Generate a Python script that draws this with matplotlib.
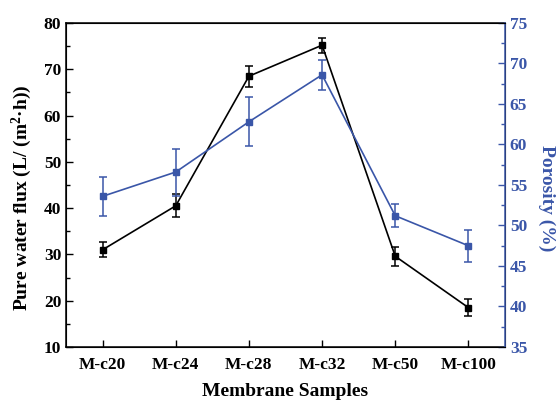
import matplotlib
matplotlib.use("Agg")
import matplotlib.pyplot as plt
from matplotlib.ticker import MultipleLocator

plt.rcParams['font.family'] = ['Liberation Serif', 'DejaVu Serif']
plt.rcParams['font.weight'] = 'bold'
plt.rcParams['mathtext.fontset'] = 'custom'
plt.rcParams['mathtext.rm'] = 'Liberation Serif:bold'
plt.rcParams['mathtext.bf'] = 'Liberation Serif:bold'
plt.rcParams['mathtext.it'] = 'Liberation Serif:bold'

samples = ["M-c20", "M-c24", "M-c28", "M-c32", "M-c50", "M-c100"]
flux = [31.0, 40.5, 68.5, 75.2, 29.6, 18.5]
flux_err = [1.6, 2.5, 2.3, 1.6, 2.0, 1.9]
porosity = [53.6, 56.6, 62.8, 68.6, 51.2, 47.5]
porosity_err = [2.4, 2.9, 3.0, 1.85, 1.4, 2.0]

blue = '#3A56A8'

fig = plt.figure(figsize=(5.58, 4.03), dpi=100)
ax = fig.add_axes([0.1183, 0.139, 0.7867, 0.804])
x = list(range(len(samples)))

ax.errorbar(x, flux, yerr=flux_err, color='black', marker='s', markersize=5,
            linewidth=1.2, capsize=3, elinewidth=1.1, capthick=1.1, zorder=3)
ax.set_xlim(-0.5, 5.5)
ax.set_ylim(10, 80)
ax.set_xticks(x)
ax.set_xticklabels(samples)
ax.yaxis.set_major_locator(MultipleLocator(10))
ax.yaxis.set_minor_locator(MultipleLocator(5))
ax.tick_params(axis='both', which='both', direction='in', labelsize=12.5)
ax.tick_params(axis='both', which='major', length=5, width=1)
ax.tick_params(axis='y', which='minor', length=3, width=1)
ax.tick_params(axis='x', which='major', pad=7)
ax.set_ylabel(r'Pure water flux (L/ (m$^{2}$·h))', fontsize=14, fontweight='bold')
ax.yaxis.set_label_coords(-0.073, 0.46)
ax.set_xlabel('Membrane Samples', fontsize=14, fontweight='bold')
ax.xaxis.set_label_coords(0.5, -0.112)
for s in ['left', 'bottom', 'top']:
    ax.spines[s].set_linewidth(1.1)

ax2 = ax.twinx()
ax2.errorbar(x, porosity, yerr=porosity_err, color=blue, marker='s', markersize=5,
             linewidth=1.2, capsize=3, elinewidth=1.1, capthick=1.1, zorder=3)
ax2.set_ylim(35, 75)
ax2.yaxis.set_major_locator(MultipleLocator(5))
ax2.yaxis.set_minor_locator(MultipleLocator(2.5))
ax2.tick_params(axis='y', which='both', direction='in', colors=blue, labelsize=12.5)
ax2.tick_params(axis='y', which='major', length=5, width=1)
ax2.tick_params(axis='y', which='minor', length=3, width=1)
ax2.spines['right'].set_color(blue)
ax2.spines['right'].set_linewidth(1.1)
ax2.set_ylabel('Porosity (%)', fontsize=14, fontweight='bold', color=blue, rotation=270)
ax2.yaxis.set_label_coords(1.115, 0.46)

fig.savefig('out.png', dpi=100, facecolor='white')
